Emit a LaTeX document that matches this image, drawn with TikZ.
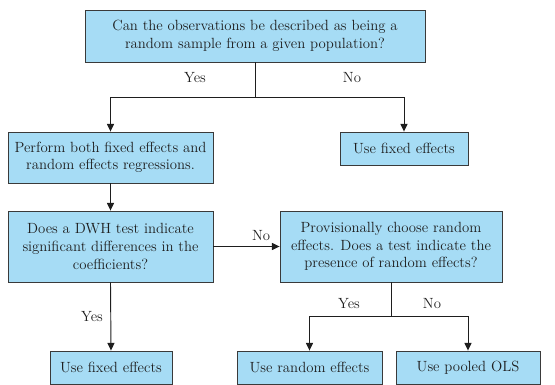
\documentclass[tikz,border=0pt]{standalone}
\usepackage{tikz}
\usetikzlibrary{arrows.meta,positioning}
\definecolor{Celeste}{HTML}{A6DCF5}
\definecolor{Borde}{HTML}{3A3A3A}
\definecolor{Tinta}{HTML}{1E1E1E}

\begin{document}
\begin{tikzpicture}[
  x=0.3mm, y=-0.3mm,
  every node/.style={font=\fontsize{12.6}{15}\selectfont, text=Tinta},
  box/.style 2 args={draw=Borde, fill=Celeste, line width=0.75pt, align=center,
    inner sep=0pt, minimum width=#1*0.3mm, minimum height=#2*0.3mm},
  flow/.style={-{Triangle[length=6.5pt,width=6pt]}, line width=0.8pt, draw=Tinta},
  link/.style={line width=0.8pt, draw=Tinta}
]
  \useasboundingbox (0,0) rectangle (555,385);

  % boxes
  \node[box={340}{52}] (q1) at (255,36)
    {Can the observations be described as being a\\random sample from a given population?};
  \node[box={205}{51}] (perform) at (110.5,157.5)
    {Perform both fixed effects and\\random effects regressions.};
  \node[box={128}{33}] (fe1) at (404,148.5)
    {Use fixed effects};
  \node[box={205}{71}] (dwh) at (110.5,246.5)
    {Does a DWH test indicate\\significant differences in the\\coefficients?};
  \node[box={222}{71}] (prov) at (391,246.5)
    {Provisionally choose random\\effects. Does a test indicate the\\presence of random effects?};
  \node[box={122}{33}] (fe2) at (111,367.5)
    {Use fixed effects};
  \node[box={145}{33}] (re) at (309.5,367.5)
    {Use random effects};
  \node[box={144}{33}] (ols) at (468,367.5)
    {Use pooled OLS};

  % branches
  \coordinate (j1) at (255,97);
  \coordinate (j2) at (391,316);
  \draw[link] (q1.south) -- (j1);
  \draw[flow] (j1) -| (perform.north);
  \draw[flow] (j1) -| (fe1.north);
  \node (yes1) at (195,78) {Yes};
  \node (no1) at (352,78) {No};

  \draw[flow] (perform.south) -- (dwh.north);
  \draw[flow] (dwh.east) -- node[above=1pt, pos=0.72] (no2) {No} (prov.west);
  \draw[flow] (dwh.south) -- node[left=3pt] (yes2) {Yes} (fe2.north);

  \draw[link] (prov.south) -- (j2);
  \draw[flow] (j2) -| (re.north);
  \draw[flow] (j2) -| (ols.north);
  \node (yes3) at (349,304) {Yes};
  \node (no3) at (432,304) {No};
\end{tikzpicture}
\end{document}
